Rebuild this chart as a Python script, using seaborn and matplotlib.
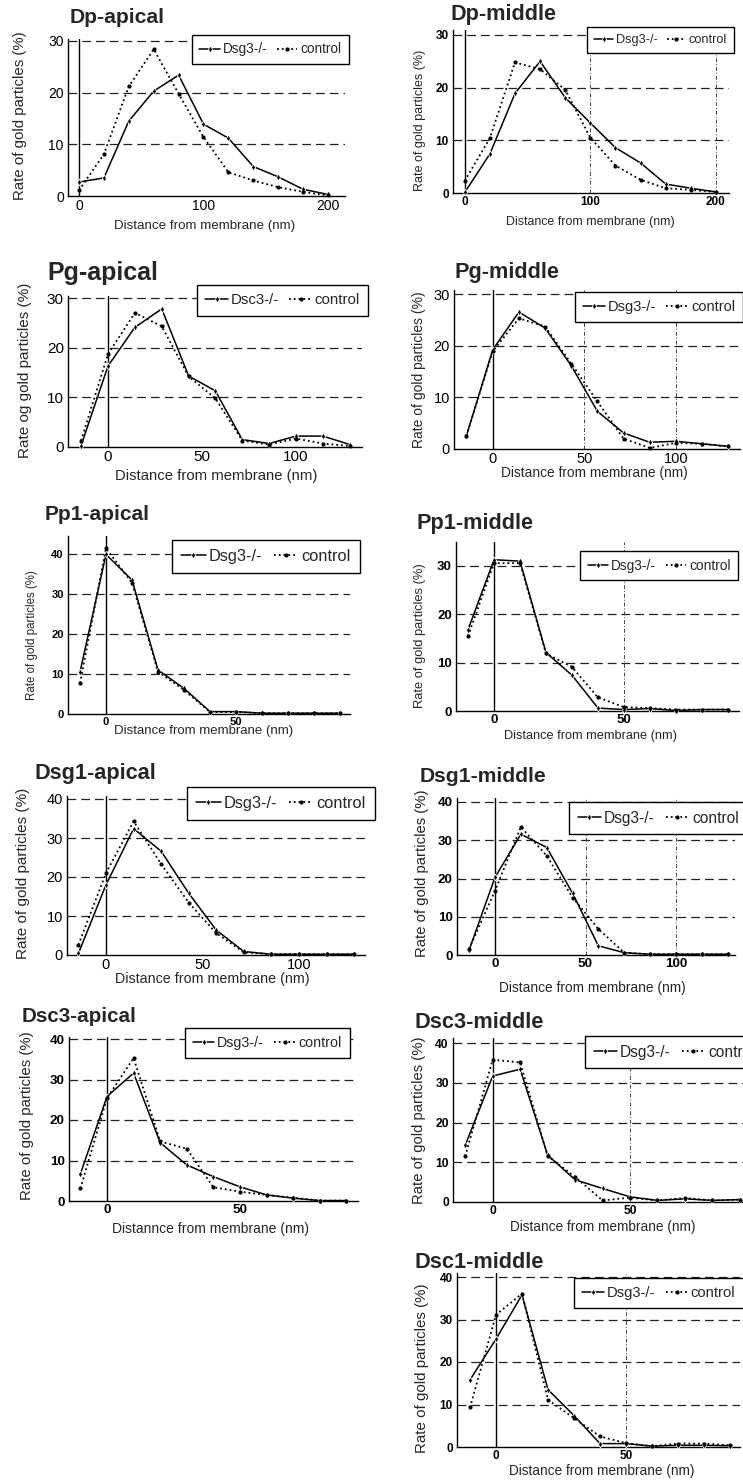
import matplotlib
matplotlib.use("Agg")
import matplotlib.pyplot as plt
import seaborn as sns

sns.set_style("white")
plt.rcParams["font.family"] = ["Liberation Sans", "DejaVu Sans"]

W, H = 743, 1484

# Distance bins (nm)
dist_dp = [0, 20, 40, 60, 80, 100, 120, 140, 160, 180, 200]
dist_7 = [-14.3, 0, 14.3, 28.6, 42.9, 57.1, 71.4, 85.7, 100, 114.3, 128.6]
dist_10 = [-10, 0, 10, 20, 30, 40, 50, 60, 70, 80, 90]

# Rate of gold particles (%) : knockout vs control
dp_apical_ko = [2.7, 3.5, 14.5, 20.3, 23.4, 13.9, 11.2, 5.7, 3.7, 1.3, 0.3]
dp_apical_ct = [1.1, 8.1, 21.2, 28.4, 19.8, 11.4, 4.6, 3.0, 1.7, 0.8, 0.1]
dp_middle_ko = [0.1, 7.4, 18.9, 25.0, 18.1, 13.3, 8.6, 5.7, 1.7, 0.9, 0.2]
dp_middle_ct = [2.3, 10.4, 24.8, 23.5, 19.6, 10.5, 5.2, 2.5, 0.9, 0.6, 0.2]
pg_apical_ko = [0.3, 16.3, 24.1, 27.8, 14.3, 11.3, 1.5, 0.7, 2.2, 2.2, 0.5]
pg_apical_ct = [1.3, 18.7, 27.0, 24.3, 14.2, 9.8, 1.3, 0.5, 1.7, 0.7, 0.2]
pg_middle_ko = [2.6, 19.2, 26.5, 23.4, 16.1, 7.3, 3.1, 1.3, 1.5, 1.0, 0.5]
pg_middle_ct = [2.6, 18.9, 25.3, 23.7, 16.5, 9.2, 2.0, 0.2, 1.2, 1.0, 0.5]
pp1_apical_ko = [10.5, 39.9, 33.5, 11.0, 6.4, 0.6, 0.6, 0.2, 0.2, 0.2, 0.2]
pp1_apical_ct = [7.7, 41.4, 32.8, 10.6, 6.0, 0.5, 0.5, 0.2, 0.2, 0.2, 0.2]
pp1_middle_ko = [16.8, 31.3, 31.0, 12.1, 7.4, 0.6, 0.3, 0.5, 0.1, 0.3, 0.3]
pp1_middle_ct = [15.5, 30.6, 30.6, 11.9, 9.1, 2.8, 0.8, 0.6, 0.3, 0.3, 0.3]
dsg1_apical_ko = [0.4, 18.0, 32.4, 26.6, 15.8, 6.4, 0.9, 0.2, 0.2, 0.2, 0.2]
dsg1_apical_ct = [2.6, 21.0, 34.3, 23.3, 13.4, 5.6, 0.7, 0.2, 0.2, 0.2, 0.2]
dsg1_middle_ko = [1.3, 20.3, 31.6, 28.1, 16.1, 2.4, 0.6, 0.2, 0.2, 0.2, 0.2]
dsg1_middle_ct = [1.6, 16.8, 33.5, 25.9, 15.0, 6.8, 0.6, 0.2, 0.2, 0.2, 0.2]
dsc3_apical_ko = [6.7, 25.8, 31.6, 14.4, 8.9, 6.0, 3.5, 1.5, 0.7, 0.1, 0.1]
dsc3_apical_ct = [3.1, 25.4, 35.3, 14.7, 12.9, 3.4, 2.3, 1.5, 0.8, 0.1, 0.1]
dsc3_middle_ko = [14.3, 31.7, 33.4, 11.8, 5.6, 3.4, 1.3, 0.4, 0.8, 0.4, 0.6]
dsc3_middle_ct = [11.5, 35.8, 35.1, 11.6, 6.3, 0.4, 1.1, 0.4, 1.0, 0.4, 0.6]
dsc1_middle_ko = [15.8, 25.4, 35.8, 13.5, 7.4, 0.8, 0.8, 0.2, 0.4, 0.4, 0.3]
dsc1_middle_ct = [9.3, 31.1, 36.1, 11.1, 6.8, 2.5, 0.9, 0.2, 0.8, 0.8, 0.4]

YLAB = "Rate of gold particles (%)"
XLAB = "Distance from membrane (nm)"

# Each panel: text, data and layout in pixels of the original figure
panels = [
    dict(title="Dp-apical", x=dist_dp, ko=dp_apical_ko, ct=dp_apical_ct, ko_name="Dsg3-/-",
         ylabel=YLAB, xlabel=XLAB, yticks=[0, 10, 20, 30], xticks=[0, 100, 200], vlines=[],
         box=(68, 345, 196, 41, 30, 30.4, 79, 328, 200), title_xy=(70, 18), tfs=15.2,
         ylab_xy=(20, 116), yfs=10.8, xlab_xy=(205, 226), xfs=9.6, tick_fs=10, bold=False,
         leg_xy=(192, 35), lfs=9.8),
    dict(title="Dp-middle", x=dist_dp, ko=dp_middle_ko, ct=dp_middle_ct, ko_name="Dsg3-/-",
         ylabel=YLAB, xlabel=XLAB, yticks=[0, 10, 20, 30], xticks=[0, 100, 200], vlines=[100, 200],
         box=(453, 729, 193, 35, 30, 31, 464.7, 716, 200), title_xy=(450, 15), tfs=15.6,
         ylab_xy=(420, 120), yfs=9, xlab_xy=(590, 222), xfs=8.9, tick_fs=8.5, bold=True,
         leg_xy=(587, 27), lfs=9.2),
    dict(title="Pg-apical", x=dist_7, ko=pg_apical_ko, ct=pg_apical_ct, ko_name="Dsc3-/-",
         ylabel="Rate og gold particles (%)", xlabel=XLAB, yticks=[0, 10, 20, 30], xticks=[0, 50, 100],
         vlines=[], box=(68, 362, 447, 298, 30, 30.4, 108, 296, 100), title_xy=(47, 273), tfs=18,
         ylab_xy=(25, 370), yfs=11, xlab_xy=(216, 476), xfs=10.7, tick_fs=11, bold=False,
         leg_xy=(197, 285), lfs=10.8),
    dict(title="Pg-middle", x=dist_7, ko=pg_middle_ko, ct=pg_middle_ct, ko_name="Dsg3-/-",
         ylabel=YLAB, xlabel=XLAB, yticks=[0, 10, 20, 30], xticks=[0, 50, 100], vlines=[50, 100],
         box=(454, 740, 449, 294, 30, 30.8, 492.7, 676, 100), title_xy=(455, 273), tfs=15.6,
         ylab_xy=(419, 370), yfs=10, xlab_xy=(594, 473), xfs=9.9, tick_fs=10.5, bold=False,
         leg_xy=(575, 292), lfs=10.5),
    dict(title="Pp1-apical", x=dist_10, ko=pp1_apical_ko, ct=pp1_apical_ct, ko_name="Dsg3-/-",
         ylabel=YLAB, xlabel=XLAB, yticks=[0, 10, 20, 30, 40], xticks=[0, 50], vlines=[],
         box=(68, 350, 714, 554, 40, 44.5, 106, 236, 50), title_xy=(45, 514), tfs=15,
         ylab_xy=(32, 635), yfs=8.3, xlab_xy=(204, 731), xfs=9.5, tick_fs=8, bold=True,
         leg_xy=(172, 540), lfs=11.8),
    dict(title="Pp1-middle", x=dist_10, ko=pp1_middle_ko, ct=pp1_middle_ct, ko_name="Dsg3-/-",
         ylabel=YLAB, xlabel=XLAB, yticks=[0, 10, 20, 30], xticks=[0, 50], vlines=[50],
         box=(456, 739, 711, 566, 30, 35, 494, 624, 50), title_xy=(417, 524), tfs=15.6,
         ylab_xy=(420, 636), yfs=9.3, xlab_xy=(591, 736), xfs=9.2, tick_fs=9.5, bold=True,
         leg_xy=(580, 551), lfs=9.9),
    dict(title="Dsg1-apical", x=dist_7, ko=dsg1_apical_ko, ct=dsg1_apical_ct, ko_name="Dsg3-/-",
         ylabel=YLAB, xlabel=XLAB, yticks=[0, 10, 20, 30, 40], xticks=[0, 50, 100], vlines=[],
         box=(67, 365, 955, 799, 40, 40.7, 106, 299, 100), title_xy=(35, 773), tfs=15.6,
         ylab_xy=(23, 873), yfs=11, xlab_xy=(212, 979), xfs=10.3, tick_fs=10.5, bold=False,
         leg_xy=(187, 787), lfs=11.8),
    dict(title="Dsg1-middle", x=dist_7, ko=dsg1_middle_ko, ct=dsg1_middle_ct, ko_name="Dsg3-/-",
         ylabel=YLAB, xlabel=XLAB, yticks=[0, 10, 20, 30, 40], xticks=[0, 50, 100], vlines=[50, 100],
         box=(457, 735, 955, 802, 40, 41, 495, 676, 100), title_xy=(420, 777), tfs=15.2,
         ylab_xy=(422, 873), yfs=10.7, xlab_xy=(592, 988), xfs=9.9, tick_fs=9.7, bold=True,
         leg_xy=(569, 802), lfs=11.2),
    dict(title="Dsc3-apical", x=dist_10, ko=dsc3_apical_ko, ct=dsc3_apical_ct, ko_name="Dsg3-/-",
         ylabel=YLAB, xlabel="Distannce from membrane (nm)", yticks=[0, 10, 20, 30, 40], xticks=[0, 50],
         vlines=[], box=(69, 358, 1201, 1039, 40, 40.5, 107, 240, 50), title_xy=(22, 1017), tfs=14.9,
         ylab_xy=(27, 1116), yfs=10.8, xlab_xy=(210, 1229), xfs=10, tick_fs=9.7, bold=True,
         leg_xy=(185, 1028), lfs=10.3),
    dict(title="Dsc3-middle", x=dist_10, ko=dsc3_middle_ko, ct=dsc3_middle_ct, ko_name="Dsg3-/-",
         ylabel=YLAB, xlabel=XLAB, yticks=[0, 10, 20, 30, 40], xticks=[0, 50], vlines=[50],
         box=(453, 770, 1202, 1043, 40, 41.3, 492.7, 630, 50), title_xy=(415, 1023), tfs=15.7,
         ylab_xy=(419, 1120), yfs=10.7, xlab_xy=(603, 1227), xfs=9.8, tick_fs=8.7, bold=True,
         leg_xy=(585, 1036), lfs=11.2),
    dict(title="Dsc1-middle", x=dist_10, ko=dsc1_middle_ko, ct=dsc1_middle_ct, ko_name="Dsg3-/-",
         ylabel=YLAB, xlabel=XLAB, yticks=[0, 10, 20, 30, 40], xticks=[0, 50], vlines=[50],
         box=(457, 740, 1447, 1277, 40, 41, 496, 626, 50), title_xy=(414, 1262), tfs=15.7,
         ylab_xy=(422, 1368), yfs=10.9, xlab_xy=(602, 1471), xfs=9.8, tick_fs=8.5, bold=True,
         leg_xy=(574, 1278), lfs=10.6),
]


def draw_panel(fig, p):
    """ Draw one distribution panel at its pixel position """
    left, right, y0, yref_px, yref, ytop, x0, xref_px, xref = p["box"]

    # Axes rectangle from pixel geometry
    ppu_y = (y0 - yref_px) / yref
    top = y0 - ppu_y * ytop
    ax = fig.add_axes([left / W, 1 - y0 / H, (right - left) / W, (y0 - top) / H])
    ppu_x = (xref_px - x0) / xref
    ax.set_xlim((left - x0) / ppu_x, (right - x0) / ppu_x)
    ax.set_ylim(0, ytop)

    def fx(px):
        return (px - left) / (right - left)

    def fy(py):
        return (y0 - py) / (y0 - top)

    # Reference lines
    for y in p["yticks"][1:]:
        ax.axhline(y, color="#222222", lw=0.9, ls=(0, (7, 4)), zorder=1)
    for x in p["vlines"]:
        ax.axvline(x, color="#444444", lw=0.7, ls=(0, (4, 2, 1, 2)), zorder=1)
    ax.axvline(0, color="black", lw=1.0, zorder=1)

    # Series
    sns.lineplot(x=p["x"], y=p["ko"], ax=ax, color="black", lw=1.1, ls="-",
                 marker="d", markersize=3.5, markeredgewidth=0.6, label=p["ko_name"],
                 clip_on=False, zorder=3)
    sns.lineplot(x=p["x"], y=p["ct"], ax=ax, color="black", lw=1.3, ls=":",
                 marker="o", markersize=3, markeredgewidth=0, label="control",
                 clip_on=False, zorder=3)

    # Axes styling
    ax.spines[["top", "right"]].set_visible(False)
    for side in ["left", "bottom"]:
        ax.spines[side].set_color("black")
        ax.spines[side].set_linewidth(1.0)
    ax.set_yticks(p["yticks"])
    ax.set_xticks(p["xticks"])
    weight = "bold" if p["bold"] else "normal"
    ax.tick_params(labelsize=p["tick_fs"], length=1.5, width=0.8, pad=1.5, colors="black")
    ax.tick_params(axis="x", pad=0.5)
    for lab in ax.get_xticklabels() + ax.get_yticklabels():
        lab.set_fontweight(weight)

    # Labels and title
    ax.set_ylabel(p["ylabel"], fontsize=p["yfs"], va="center")
    ax.yaxis.set_label_coords(fx(p["ylab_xy"][0]), fy(p["ylab_xy"][1]))
    ax.set_xlabel(p["xlabel"], fontsize=p["xfs"], va="center")
    ax.xaxis.set_label_coords(fx(p["xlab_xy"][0]), fy(p["xlab_xy"][1]))
    ax.text(fx(p["title_xy"][0]), fy(p["title_xy"][1]), p["title"], transform=ax.transAxes,
            fontsize=p["tfs"], fontweight="bold", ha="left", va="center", clip_on=False)

    # Legend
    lx, ly = p["leg_xy"]
    leg = ax.legend(loc="upper left", bbox_to_anchor=(lx / W, 1 - ly / H),
                    bbox_transform=fig.transFigure, ncol=2, fontsize=p["lfs"],
                    frameon=True, fancybox=False, edgecolor="black", framealpha=1,
                    handlelength=1.5, handletextpad=0.2, columnspacing=0.7,
                    borderpad=0.55, borderaxespad=0)
    leg.get_frame().set_linewidth(1.0)
    leg.set_zorder(5)


def main():
    fig = plt.figure(figsize=(W / 100, H / 100), dpi=100)
    for p in panels:
        draw_panel(fig, p)
    fig.savefig("out.png", dpi=100)


if __name__ == "__main__":
    main()
